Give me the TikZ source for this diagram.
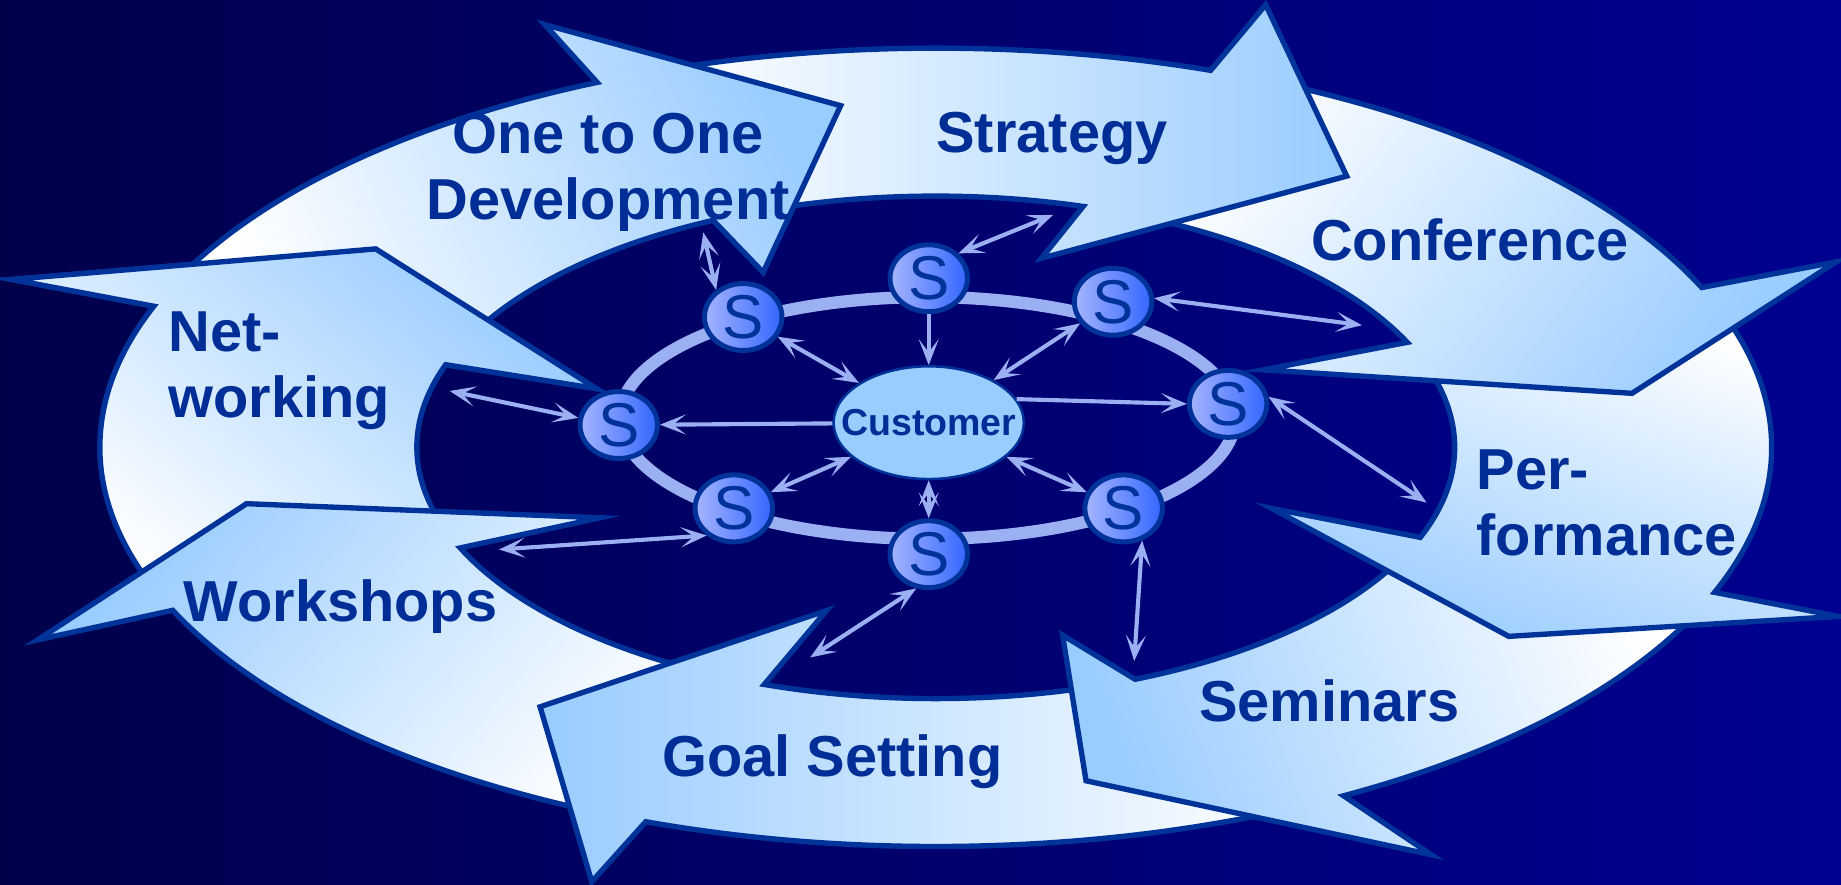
\documentclass[tikz,border=0pt]{standalone}
\usepackage{fontspec}
\setmainfont{Liberation Sans}
\usetikzlibrary{arrows.meta,shapes.geometric,calc}
\definecolor{bgleft}{RGB}{0,0,75}
\definecolor{bgright}{RGB}{0,0,145}
\definecolor{ringdark}{RGB}{0,51,153}
\definecolor{ringlight}{RGB}{153,204,255}
\definecolor{labelblue}{RGB}{0,45,150}
\definecolor{orbitblue}{RGB}{155,176,242}
\definecolor{slight}{RGB}{165,180,255}
\definecolor{sdark}{RGB}{51,102,255}

% one curved arrow of the ring:
% tail angle (outer, inner), base angle (outer, inner), outer barb, tip, inner barb, shading angle
\newcommand{\ringarrow}[8]{%
  \path[bigarrow,shading angle=#8]
    ($(ctr)+(#1:712 and 340)$) arc[start angle=#1,end angle=#3,x radius=712,y radius=340]
    -- #5 -- #6 -- #7
    -- ($(ctr)+(#4:442 and 214)$) arc[start angle=#4,end angle=#2,x radius=442,y radius=214]
    -- cycle;}

\begin{document}
\begin{tikzpicture}[x=0.1mm,y=-0.1mm,>={Stealth[length=2.2mm,width=1.7mm,inset=1.1mm]},
  bigarrow/.style={draw=ringdark,line width=1.3pt,top color=ringlight,bottom color=white},
  ringtext/.style={font=\fontsize{14}{16}\selectfont\bfseries,text=labelblue,inner sep=0pt},
  snode/.style={ellipse,draw=ringdark,line width=1.2pt,left color=slight,right color=sdark,
    minimum width=6.6mm,minimum height=5.7mm,inner sep=0pt,text=ringdark,
    font=\fontsize{15}{15}\selectfont},
  spoke/.style={orbitblue,line width=1pt}]
\useasboundingbox (0,0) rectangle (1568,753);
\shade[left color=bgleft,right color=bgright] (0,0) rectangle (1568,753);
\coordinate (ctr) at (797,381);

% the ring, drawn backwards so each head lies on the next tail
\ringarrow{159.9}{160.4}{200.7}{199.2}{(10,238)}{(320,212)}{(508,331)}{-41}
\ringarrow{115.3}{114.3}{155.9}{156.4}{(32,545)}{(210,429)}{(511,441)}{50}
\ringarrow{63.8}{70.4}{110.3}{109.3}{(504,751)}{(460,602)}{(704,520)}{90}
\ringarrow{24.3}{24}{60.8}{67.4}{(1219,728)}{(925,665)}{(905,541)}{110}
\ringarrow{-18.6}{-19.7}{21.3}{21.0}{(1566,525)}{(1285,542)}{(1083,433)}{160}
\ringarrow{-65.8}{-68.5}{-23.6}{-24.7}{(1564,223)}{(1390,335)}{(1076,315)}{-127}
\ringarrow{-108.9}{-110.4}{-70.8}{-73.5}{(1078,4)}{(1147,150)}{(887,220)}{-90}
\ringarrow{-154.3}{-155.8}{-113.9}{-115.4}{(464,21)}{(716,90)}{(650,232)}{-65}
% networking head once more, over the tail of one to one
\begin{scope}
  \clip (0,0) rectangle (560,345);
  \ringarrow{159.9}{160.4}{200.7}{199.2}{(10,238)}{(320,212)}{(508,331)}{-41}
\end{scope}

% labels
\node[ringtext,align=center] (onetoone) at (518,147) {One to One\\Development};
\node[ringtext] (strategy) at (896,118) {Strategy};
\node[ringtext] (conference) at (1252,204) {Conference};
\node[ringtext,align=left,anchor=west] (performance) at (1257,428) {Per-\\formance};
\node[ringtext] (seminars) at (1132,597) {Seminars};
\node[ringtext] (goalsetting) at (709,649) {Goal Setting};
\node[ringtext] (workshops) at (290,517) {Workshops};
\node[ringtext,align=left,anchor=west] (networking) at (143,316) {Net-\\working};

% orbit with the customer in the middle
\draw[orbitblue,line width=3pt] (790,356) ellipse [x radius=262,y radius=103];
\node[ellipse,fill=ringlight,draw=ringdark,line width=0.6pt,minimum width=16.2mm,minimum height=9.6mm,
  inner xsep=-3mm,inner ysep=0pt,text=labelblue,font=\fontsize{9.1}{10}\selectfont\bfseries]
  (cust) at (791,360) {Customer};
\foreach \i/\x/\y in {1/633/270,2/791/237,3/948/257,4/1046/344,5/957/433,6/791/472,7/625/433,8/527/362}
  \node[snode] (s\i) at (\x,\y) {S};

% spokes
\foreach \i in {1,3,5,6,7}
  \draw[spoke,<->] (cust) -- (s\i);
\draw[spoke,->] (s2) -- (cust);
\draw[spoke,->] (cust.15) -- (s4.west);
\draw[spoke,->] (cust) -- (s8);
\foreach \i/\a/\x/\y in {1/135/599/198,2/40/897/183,3/5/1160/277,4/10/1215/428,
    5/-60/966/563,6/-110/690/560,7/225/425/468,8/170/383/333}{
  \coordinate (c\i) at (\x,\y);
  \draw[spoke,<->] (s\i.\a) -- (c\i);
}
\end{tikzpicture}
\end{document}
